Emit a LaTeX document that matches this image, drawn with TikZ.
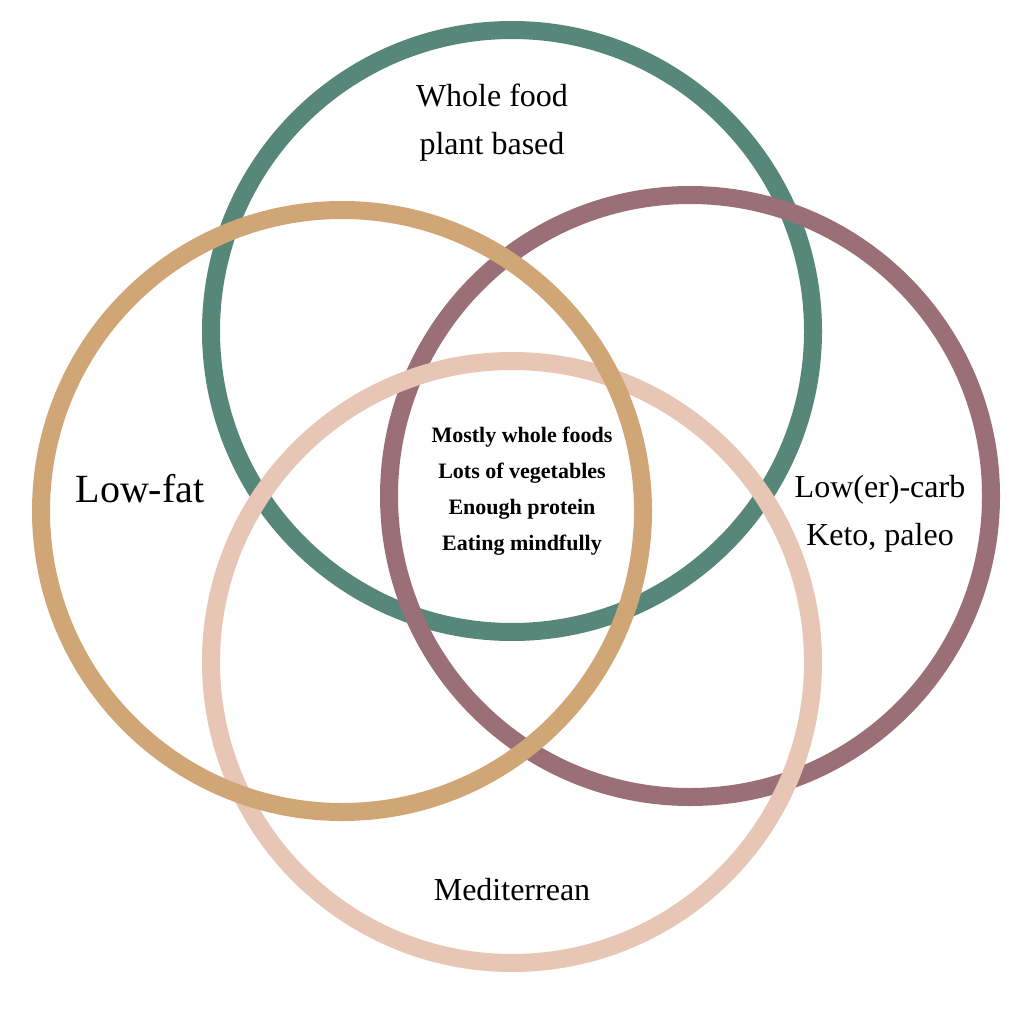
\documentclass[tikz,border=0pt]{standalone}
\usepackage{fontspec}
\setmainfont{Liberation Serif}
\definecolor{cgreen}{HTML}{568779}
\definecolor{ctan}{HTML}{D0A677}
\definecolor{cmauve}{HTML}{9A6F78}
\definecolor{cpink}{HTML}{E8C6B6}
\begin{document}
\begin{tikzpicture}[x=1pt,y=-1pt,ring/.style={line width=18pt},lab/.style={align=center,font=\fontsize{32}{48}\selectfont}]
\useasboundingbox (0,0) rectangle (1024,1024);
\fill[white] (0,0) rectangle (1024,1024);
\draw[ring,cgreen] (512,331) circle (301);
\draw[ring,cmauve] (690,496) circle (301);
\draw[ring,cpink] (512,662) circle (301);
\draw[ring,ctan] (342,511) circle (301);
\node[lab] (wf) at (492,123) {Whole food\\plant based};
\node[lab,font=\fontsize{40}{48}\selectfont] (lf) at (140,489) {Low-fat};
\node[lab] (lc) at (880,514) {Low(er)-carb\\Keto, paleo};
\node[lab] (md) at (512,890) {Mediterrean};
\node[align=center,font=\bfseries\fontsize{22}{36}\selectfont] (ct) at (522,491) {Mostly whole foods\\Lots of vegetables\\Enough protein\\Eating mindfully};
\end{tikzpicture}
\end{document}
